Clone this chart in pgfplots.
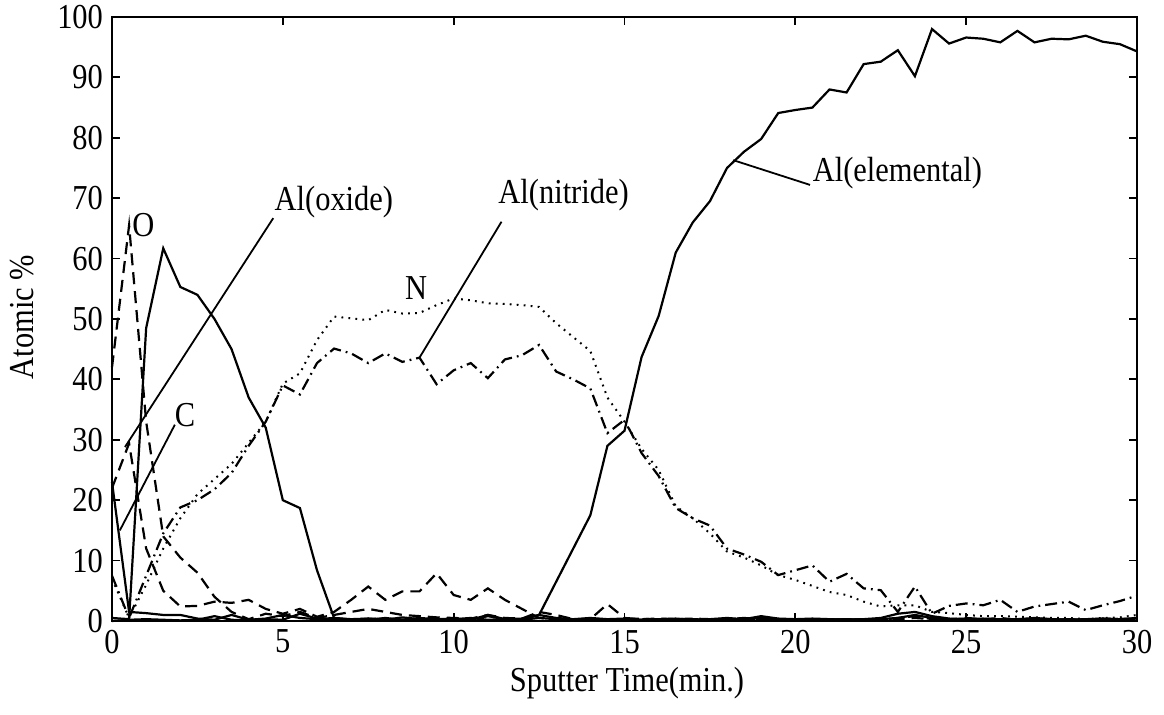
\documentclass[border=0pt]{standalone}
\usepackage{fontspec}
\setmainfont{Liberation Serif}[FakeStretch=0.87]
\usepackage{pgfplots}
\usepackage{pgfplotstable}
\pgfplotsset{compat=1.18}

\pgfplotstableread{
t    sA    sC    sE    dO    dB    nN    aN
0    0.5   23    0     42    22    7     7.5
0.5  0.3   1.5   0.2   65.5  29.4  0.5   0.5
1    48.5  1.3   0.3   33    12    6     7.5
1.5  61.7  1.0   0.2   14    5     12    14.5
2    55.3  1.0   0.1   10.5  2.4   17    18.8
2.5  54    0.4   0.2   8     2.5   21    20
3    50    0.2   0.8   4     3.2   23.5  21.8
3.5  45    1.0   0.2   1.5   3.0   26    24.5
4    37    0.2   0.1   0.3   3.5   29.5  29
4.5  32    0.4   0.3   1.2   2.0   33    33
5    20    1.0   0.2   0.8   1.2   39.3  39
5.5  18.7  0.5   1.2   1.5   2.0   41    37.5
6    8.4   0.3   0.4   0.5   0.7   46.5  42.7
6.5  0.5   0.5   0.2   1.0   1.5   50.4  45.1
7    0.3   0.2   0.3   1.5   3.5   50.1  44.3
7.5  0.4   0.4   0.2   2.0   5.7   49.8  42.7
8    0.2   0.3   0.5   1.5   3.5   51.5  44.3
8.5  0.6   0.2   0.2   1.0   4.9   50.9  42.9
9    0.3   0.5   0.3   0.8   4.9   51    43.6
9.5  0.2   0.3   0.2   0.6   7.9   52.3  39.2
10   0.3   0.4   0.3   0.5   4.3   53.4  41.5
10.5 0.5   0.2   0.2   0.4   3.5   53.1  42.7
11   0.2   0.8   1.0   1.0   5.4   52.6  40.2
11.5 0.3   0.3   0.3   0.5   3.5   52.5  43.3
12   0.2   0.4   0.2   0.4   2.0   52.3  44
12.5 0.5   1.0   1.0   1.5   0.5   52    45.7
13   0.3   0.5   6.5   1.0   0.3   49.3  41.3
13.5 0.2   0.3   12    0.3   0.2   47    40
14   0.4   0.5   17.5  0.3   0.3   44.7  38.5
14.5 0.2   0.3   29    2.8   0.2   37    31.1
15   0.3   0.4   31.5  0.5   0.3   33    33.3
15.5 0.2   0.2   43.7  0.3   0.4   28.5  27.8
16   0.3   0.3   50.5  0.4   0.2   25    24
16.5 0.2   0.4   61    0.3   0.3   19    18.7
17   0.3   0.2   66    0.4   0.2   17    17
17.5 0.2   0.3   69.5  0.3   0.3   14.5  15.8
18   0.4   0.5   75    0.3   0.2   11.5  12
18.5 0.2   0.3   77.7  0.5   0.3   10.5  11
19   0.5   0.8   79.8  0.3   0.4   9.2   9.8
19.5 0.3   0.4   84.1  0.2   0.2   7.6   7.6
20   0.2   0.3   84.6  0.3   0.3   6.8   8.4
20.5 0.3   0.4   85    0.2   0.2   5.8   9.2
21   0.2   0.3   88    0.3   0.3   4.8   6.5
21.5 0.3   0.2   87.5  0.2   0.2   4.3   7.8
22   0.2   0.3   92.2  0.3   0.3   3.2   5.4
22.5 0.3   0.5   92.6  0.2   0.2   2.4   5.1
23   0.5   1.2   94.5  0.5   0.3   2.6   1.5
23.5 1.0   1.5   90.2  0.8   0.5   2.6   5.7
24   0.5   0.8   98    0.3   0.3   1.5   1.2
24.5 0.3   0.4   95.6  0.2   0.2   1.3   2.5
25   0.4   0.3   96.6  0.5   0.3   1.0   2.9
25.5 0.2   0.4   96.4  0.3   0.2   0.8   2.6
26   0.3   0.2   95.8  0.5   0.3   0.8   3.5
26.5 0.2   0.3   97.7  0.2   0.2   0.7   1.5
27   0.3   0.5   95.8  0.4   0.3   0.6   2.4
27.5 0.2   0.3   96.4  0.3   0.2   0.5   2.8
28   0.3   0.2   96.3  0.2   0.3   0.5   3.2
28.5 0.2   0.3   96.9  0.3   0.2   0.3   1.8
29   0.4   0.4   95.9  0.2   0.3   0.5   2.6
29.5 0.3   0.3   95.5  0.3   0.2   0.6   3.3
30   0.5   0.4   94.3  0.4   0.3   1.0   4.2
}\data

\tikzset{
  dsh/.style={dash pattern=on 6pt off 3.5pt},
  dotl/.style={dash pattern=on 0.9pt off 2.6pt},
  ddot/.style={dash pattern=on 6pt off 2.5pt on 0.9pt off 2.5pt},
}
\newcommand{\lf}{\fontsize{17.5}{20}\selectfont}

\begin{document}
\begin{tikzpicture}
\useasboundingbox (-56pt,-47pt) rectangle (526pt,310.5pt);
\begin{axis}[
  at={(0,0)}, anchor=south west,
  scale only axis, width=512.5pt, height=302pt,
  xmin=0, xmax=30, ymin=0, ymax=100,
  xtick={0,5,...,30}, ytick={0,10,...,100},
  tick align=inside, major tick length=4pt,
  axis line style={line width=0.9pt},
  every tick/.style={black, line width=0.9pt},
  /pgf/number format/assume math mode=true,
  tick label style={font=\lf},
  yticklabel style={xshift=-1pt},
  xticklabel style={yshift=-1pt},
  clip=false,
]
\addplot[black, line width=1.1pt] table[x=t,y=sA] {\data};
\addplot[black, line width=1.1pt] table[x=t,y=sC] {\data};
\addplot[black, line width=1.1pt] table[x=t,y=sE] {\data};
\addplot[black, line width=1.1pt, dsh] table[x=t,y=dO] {\data};
\addplot[black, line width=1.1pt, dsh] table[x=t,y=dB] {\data};
\addplot[black, line width=1pt, dotl] table[x=t,y=nN] {\data};
\addplot[black, line width=1.1pt, ddot] table[x=t,y=aN] {\data};

\draw[line width=0.9pt] (axis cs:4.72,66.7) -- (axis cs:0.38,28.8);
\draw[line width=0.9pt] (axis cs:1.84,32.5) -- (axis cs:0.23,15);
\draw[line width=0.9pt] (axis cs:11.4,66.1) -- (axis cs:9.0,43.6);
\draw[line width=0.9pt] (axis cs:20.43,72.2) -- (axis cs:18.18,76.3);

\node[font=\lf] at (axis cs:0.92,65.6) {O};
\node[font=\lf, anchor=west, inner sep=0pt] at (axis cs:4.75,69.4) {Al(oxide)};
\node[font=\lf] at (axis cs:2.14,34.1) {C};
\node[font=\lf] at (axis cs:8.9,55.1) {N};
\node[font=\lf, anchor=west, inner sep=0pt] at (axis cs:11.3,70.5) {Al(nitride)};
\node[font=\lf, anchor=west, inner sep=0pt] at (axis cs:20.5,74.2) {Al(elemental)};
\end{axis}
\node[font=\lf, rotate=90] at (-45pt,152pt) {Atomic \%};
\node[font=\lf] at (257.5pt,-31pt) {Sputter Time(min.)};
\end{tikzpicture}
\end{document}
